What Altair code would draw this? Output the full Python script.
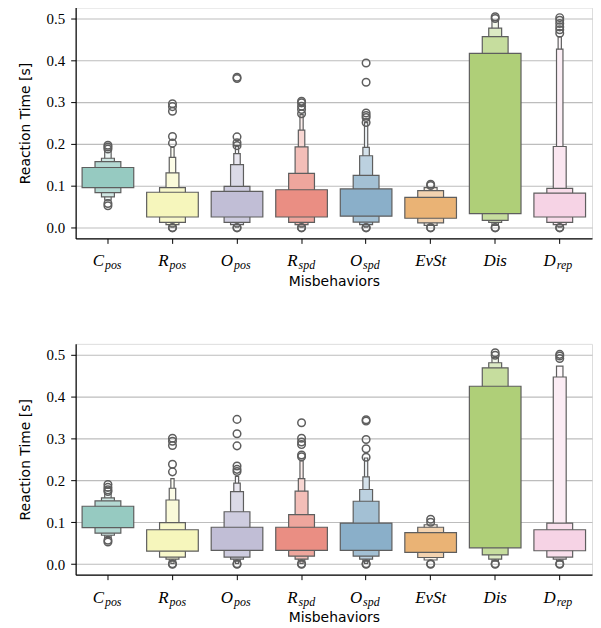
import colorsys
import altair as alt
import pandas as pd

# ---------------- data ----------------
CATEGORIES = ["Cpos", "Rpos", "Opos", "Rspd", "Ospd", "EvSt", "Dis", "Drep"]
LABEL_MAIN = ["C", "R", "O", "R", "O", "EvSt", "Dis", "D"]
LABEL_SUB = ["pos", "pos", "pos", "spd", "spd", "", "", "rep"]
PALETTE = ["#8dd3c7", "#ffffb3", "#bebada", "#fb8072",
           "#80b1d3", "#fdb462", "#b3de69", "#fccde5"]

# letter-value boxes, innermost level first (lower / upper ends)
TOP_LO = [
    [0.096, 0.084, 0.074, 0.066],
    [0.026, 0.013, 0.008, 0.004, 0.002],
    [0.026, 0.013, 0.008, 0.004, 0.002],
    [0.026, 0.013, 0.008, 0.004, 0.002],
    [0.028, 0.014, 0.008, 0.004, 0.002],
    [0.023, 0.012, 0.006],
    [0.034, 0.018, 0.013, 0.006],
    [0.026, 0.013, 0.008, 0.004, 0.002],
]
TOP_HI = [
    [0.144, 0.158, 0.166, 0.185],
    [0.085, 0.096, 0.131, 0.168, 0.192],
    [0.087, 0.099, 0.151, 0.177, 0.196],
    [0.091, 0.130, 0.193, 0.233, 0.270],
    [0.093, 0.125, 0.172, 0.192, 0.251],
    [0.073, 0.089, 0.096],
    [0.416, 0.456, 0.476, 0.494],
    [0.083, 0.094, 0.194, 0.426, 0.456],
]
TOP_OUT = [
    [0.188, 0.193, 0.197, 0.058, 0.053],
    [0.202, 0.218, 0.278, 0.289, 0.296, 0.000, 0.001],
    [0.196, 0.203, 0.217, 0.356, 0.359, 0.000, 0.001],
    [0.272, 0.282, 0.290, 0.298, 0.302, 0.000, 0.001],
    [0.251, 0.263, 0.268, 0.274, 0.347, 0.393, 0.000, 0.001],
    [0.101, 0.104, 0.000, 0.001],
    [0.499, 0.503, 0.000, 0.001],
    [0.464, 0.472, 0.479, 0.487, 0.495, 0.501, 0.000, 0.001],
]

BOT_LO = [
    [0.087, 0.074, 0.069, 0.064],
    [0.031, 0.017, 0.012, 0.007, 0.002],
    [0.033, 0.017, 0.012, 0.007, 0.002],
    [0.033, 0.019, 0.012, 0.007, 0.002],
    [0.033, 0.019, 0.012, 0.007, 0.002],
    [0.028, 0.016, 0.010],
    [0.039, 0.022, 0.012, 0.007],
    [0.032, 0.017, 0.012, 0.007],
]
BOT_HI = [
    [0.138, 0.151, 0.158, 0.175],
    [0.082, 0.099, 0.153, 0.181, 0.204],
    [0.088, 0.125, 0.173, 0.193, 0.209],
    [0.088, 0.118, 0.174, 0.204, 0.246],
    [0.098, 0.150, 0.178, 0.208, 0.253],
    [0.075, 0.088, 0.094],
    [0.424, 0.468, 0.480, 0.493],
    [0.082, 0.098, 0.446, 0.472],
]
BOT_OUT = [
    [0.173, 0.177, 0.183, 0.190, 0.057, 0.053],
    [0.220, 0.238, 0.283, 0.293, 0.300, 0.000, 0.001],
    [0.221, 0.226, 0.234, 0.282, 0.311, 0.345, 0.000, 0.001],
    [0.256, 0.260, 0.285, 0.291, 0.300, 0.337, 0.000, 0.001],
    [0.255, 0.275, 0.297, 0.341, 0.344, 0.000, 0.001],
    [0.100, 0.107, 0.000, 0.001],
    [0.498, 0.504, 0.000, 0.001],
    [0.490, 0.496, 0.500, 0.000, 0.001],
]

# ---------------- styling ----------------
W, H = 519, 232
BW = W / len(CATEGORIES)
EDGE = "#5e5e5e"
SERIF = "'Liberation Serif', 'DejaVu Serif', serif"
SANS = "DejaVu Sans"


def desat(hexc, s=0.75):
    r, g, b = [int(hexc[i:i + 2], 16) / 255 for i in (1, 3, 5)]
    h, l, sat = colorsys.rgb_to_hls(r, g, b)
    return colorsys.hls_to_rgb(h, l, sat * s)


def to_white(rgb, t):
    return "#%02x%02x%02x" % tuple(int(round(255 * (c + (1 - c) * t))) for c in rgb)


def box_frame(lo_all, hi_all):
    rows = []
    for ci, cat in enumerate(CATEGORIES):
        lo, hi = lo_all[ci], hi_all[ci]
        k = len(lo)
        base = desat(PALETTE[ci])
        for lvl in reversed(range(k)):
            t = 0.85 * lvl / (k - 1) if k > 1 else 0.0
            rows.append(dict(cat=cat, lo=lo[lvl], hi=hi[lvl],
                             w=0.8 * BW * 0.5 ** lvl,
                             color=to_white(base, t), draw=len(rows)))
    return pd.DataFrame(rows)


def out_frame(out_all):
    return pd.DataFrame([dict(cat=c, v=v) for c, vs in zip(CATEGORIES, out_all) for v in vs])


lab_df = pd.DataFrame(dict(cat=CATEGORIES, main=LABEL_MAIN, sub=LABEL_SUB))
lab_sub_df = lab_df[lab_df["sub"] != ""]
lab_plain_df = lab_df[lab_df["sub"] == ""]

xscale = alt.Scale(domain=CATEGORIES, paddingInner=0, paddingOuter=0)
yscale = alt.Scale(domain=[-0.025, 0.525], nice=False, zero=False)


def panel(lo_all, hi_all, out_all):
    xenc = alt.X("cat:N", scale=xscale, sort=CATEGORIES,
                 axis=alt.Axis(title="Misbehaviors", labels=False, ticks=True,
                               tickSize=5, tickColor="black", tickWidth=1,
                               domainColor="black", domainWidth=1.2, grid=False,
                               titleFont=SANS, titleFontSize=14,
                               titleFontWeight="normal", titleColor="black",
                               titlePadding=31))
    bars = alt.Chart(box_frame(lo_all, hi_all)).mark_bar(
        stroke=EDGE, strokeWidth=1.2, opacity=1
    ).encode(
        x=xenc,
        y=alt.Y("lo:Q", scale=yscale,
                axis=alt.Axis(title="Reaction Time [s]", values=[0, 0.1, 0.2, 0.3, 0.4, 0.5],
                              format=".1f", labelFont=SERIF, labelFontSize=15,
                              labelColor="black", labelPadding=6,
                              tickSize=5, tickColor="black", tickWidth=1,
                              domainColor="black", domainWidth=1.2,
                              grid=True, gridColor="#bdbdbd", gridWidth=1.1,
                              titleFont=SANS, titleFontSize=14,
                              titleFontWeight="normal", titleColor="black",
                              titlePadding=14)),
        y2="hi:Q",
        size=alt.Size("w:Q", scale=None),
        fill=alt.Fill("color:N", scale=None),
        order=alt.Order("draw:Q"),
    )
    pts = alt.Chart(out_frame(out_all)).mark_point(
        shape="circle", filled=False, size=58, color=EDGE, strokeWidth=1.5, opacity=1
    ).encode(x=alt.X("cat:N", scale=xscale), y=alt.Y("v:Q", scale=yscale))

    main = alt.Chart(lab_sub_df).mark_text(
        font=SERIF, fontStyle="italic", fontSize=17, align="right",
        baseline="alphabetic", dx=-4, color="black"
    ).encode(x=alt.X("cat:N", scale=xscale), y=alt.value(H + 28), text="main:N")
    sub = alt.Chart(lab_sub_df).mark_text(
        font=SERIF, fontStyle="italic", fontSize=12, align="left",
        baseline="alphabetic", dx=-3, color="black"
    ).encode(x=alt.X("cat:N", scale=xscale), y=alt.value(H + 31), text="sub:N")
    plain = alt.Chart(lab_plain_df).mark_text(
        font=SERIF, fontStyle="italic", fontSize=17, align="center",
        baseline="alphabetic", color="black"
    ).encode(x=alt.X("cat:N", scale=xscale), y=alt.value(H + 28), text="main:N")

    return alt.layer(bars, pts, main, sub, plain).properties(width=W, height=H)


chart = alt.vconcat(
    panel(TOP_LO, TOP_HI, TOP_OUT),
    panel(BOT_LO, BOT_HI, BOT_OUT),
    spacing=54,
).properties(
    padding={"left": 9, "top": -3, "right": 0, "bottom": 0}
).configure_view(stroke=None).configure(background="white")

chart.save("out.html", embed_options={"renderer": "svg", "actions": False})
